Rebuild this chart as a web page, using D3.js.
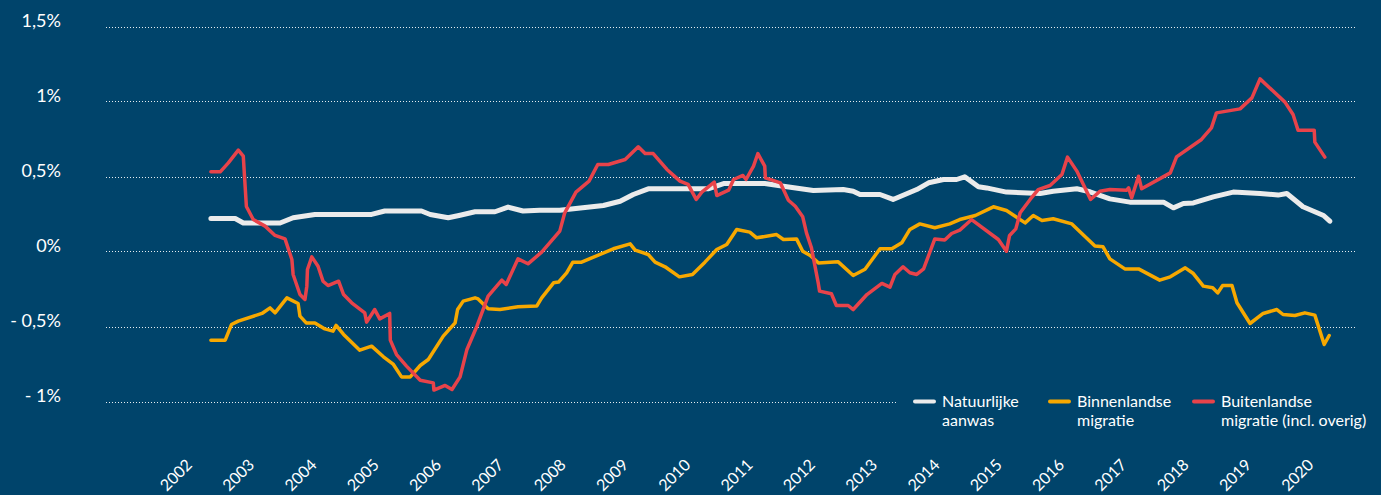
<!DOCTYPE html>
<html>
<head>
  <meta charset="utf-8">
  <title>Bevolkingsgroei naar component</title>
  <style>
    body { margin: 0; background: #00446b; }
    text { font-family: Lato, 'Open Sans', sans-serif; fill: #ffffff; }
  </style>
</head>
<body>
  <div id="chart-container"></div>
  <script src="https://d3js.org/d3.v7.min.js"></script>
  <script>
    // tick labels
    const yTicks = [1.5, 1, 0.5, 0, -0.5, -1];
    const yTickLabels = ['1,5%', '1%', '0,5%', '0%', '- 0,5%', '- 1%'];
    const years = d3.range(2002, 2021);

    // [jaar, procent]
    const natuurlijk = [
      [2002.56, 0.22], [2002.95, 0.22], [2003.08, 0.19], [2003.67, 0.19], [2003.88, 0.225],
      [2004.23, 0.247], [2005.14, 0.247], [2005.35, 0.27], [2005.94, 0.27], [2006.08, 0.247],
      [2006.37, 0.225], [2006.56, 0.242], [2006.80, 0.265], [2007.12, 0.265], [2007.33, 0.296],
      [2007.57, 0.27], [2007.84, 0.275], [2008.16, 0.275], [2008.86, 0.307], [2009.13, 0.335],
      [2009.34, 0.38], [2009.58, 0.418], [2010.54, 0.418], [2010.79, 0.453], [2011.45, 0.453],
      [2011.75, 0.435], [2012.23, 0.407], [2012.71, 0.413], [2012.87, 0.402], [2012.98, 0.38],
      [2013.30, 0.38], [2013.51, 0.347], [2013.89, 0.413], [2014.08, 0.458], [2014.32, 0.48],
      [2014.53, 0.48], [2014.66, 0.498], [2014.88, 0.431], [2015.01, 0.424], [2015.33, 0.396],
      [2015.87, 0.387], [2016.08, 0.402], [2016.46, 0.418], [2016.67, 0.398], [2016.99, 0.351],
      [2017.31, 0.329], [2017.85, 0.329], [2018.01, 0.291], [2018.17, 0.32], [2018.33, 0.324],
      [2018.65, 0.364], [2018.97, 0.396], [2019.40, 0.387], [2019.69, 0.376], [2019.83, 0.387],
      [2020.09, 0.298], [2020.42, 0.24], [2020.52, 0.202]
    ];

    const binnenlands = [
      [2002.56, -0.591], [2002.79, -0.591], [2002.89, -0.487], [2003.00, -0.464], [2003.38, -0.413],
      [2003.51, -0.376], [2003.59, -0.409], [2003.78, -0.309], [2003.96, -0.347], [2003.99, -0.431],
      [2004.09, -0.476], [2004.23, -0.476], [2004.39, -0.516], [2004.52, -0.531], [2004.57, -0.493],
      [2004.69, -0.553], [2004.95, -0.658], [2005.14, -0.631], [2005.33, -0.702], [2005.49, -0.753],
      [2005.62, -0.836], [2005.76, -0.836], [2005.92, -0.76], [2006.05, -0.72], [2006.29, -0.564],
      [2006.48, -0.476], [2006.52, -0.387], [2006.61, -0.331], [2006.80, -0.309], [2006.85, -0.316],
      [2007.01, -0.382], [2007.20, -0.387], [2007.49, -0.369], [2007.79, -0.364], [2007.87, -0.309],
      [2008.06, -0.209], [2008.14, -0.204], [2008.27, -0.142], [2008.37, -0.071], [2008.51, -0.071],
      [2009.02, 0.018], [2009.29, 0.051], [2009.37, 0.009], [2009.58, -0.02], [2009.69, -0.071],
      [2009.85, -0.102], [2010.08, -0.169], [2010.29, -0.153], [2010.49, -0.071], [2010.68, 0.013],
      [2010.84, 0.047], [2011.00, 0.147], [2011.21, 0.129], [2011.32, 0.091], [2011.64, 0.113],
      [2011.75, 0.08], [2011.96, 0.084], [2012.06, 0.002], [2012.18, -0.027], [2012.31, -0.076],
      [2012.63, -0.069], [2012.87, -0.16], [2013.06, -0.118], [2013.30, 0.018], [2013.49, 0.018],
      [2013.65, 0.058], [2013.78, 0.147], [2013.94, 0.184], [2014.18, 0.158], [2014.42, 0.184],
      [2014.58, 0.213], [2014.83, 0.24], [2015.12, 0.298], [2015.33, 0.273], [2015.63, 0.191],
      [2015.76, 0.24], [2015.90, 0.207], [2016.08, 0.218], [2016.38, 0.184], [2016.75, 0.036],
      [2016.88, 0.031], [2016.99, -0.049], [2017.23, -0.116], [2017.45, -0.116], [2017.79, -0.191],
      [2017.96, -0.169], [2018.20, -0.109], [2018.33, -0.147], [2018.49, -0.231], [2018.64, -0.242],
      [2018.72, -0.276], [2018.80, -0.227], [2018.95, -0.227], [2019.03, -0.342], [2019.24, -0.48],
      [2019.45, -0.413], [2019.67, -0.387], [2019.77, -0.42], [2019.96, -0.427], [2020.12, -0.409],
      [2020.28, -0.424], [2020.43, -0.62], [2020.51, -0.56]
    ];

    const buitenlands = [
      [2002.56, 0.531], [2002.71, 0.531], [2002.84, 0.591], [2003.00, 0.676], [2003.08, 0.636],
      [2003.10, 0.50], [2003.13, 0.30], [2003.24, 0.213], [2003.43, 0.169], [2003.59, 0.107],
      [2003.75, 0.084], [2003.86, -0.053], [2003.88, -0.153], [2003.99, -0.287], [2004.07, -0.32],
      [2004.10, -0.231], [2004.11, -0.12], [2004.18, -0.036], [2004.28, -0.098], [2004.36, -0.198],
      [2004.44, -0.227], [2004.61, -0.198], [2004.69, -0.287], [2004.82, -0.342], [2005.03, -0.409],
      [2005.06, -0.471], [2005.19, -0.387], [2005.27, -0.449], [2005.43, -0.413], [2005.44, -0.591],
      [2005.54, -0.687], [2005.70, -0.764], [2005.92, -0.858], [2006.13, -0.876], [2006.14, -0.924],
      [2006.32, -0.893], [2006.43, -0.92], [2006.56, -0.836], [2006.67, -0.653], [2006.83, -0.498],
      [2007.01, -0.298], [2007.23, -0.191], [2007.30, -0.22], [2007.49, -0.049], [2007.65, -0.082],
      [2007.87, -0.004], [2008.16, 0.136], [2008.24, 0.258], [2008.42, 0.396], [2008.63, 0.469],
      [2008.77, 0.58], [2008.94, 0.58], [2009.21, 0.613], [2009.42, 0.698], [2009.53, 0.653],
      [2009.66, 0.653], [2009.88, 0.547], [2010.09, 0.469], [2010.22, 0.447], [2010.35, 0.347],
      [2010.44, 0.396], [2010.64, 0.462], [2010.68, 0.373], [2010.87, 0.409], [2010.95, 0.48],
      [2011.10, 0.507], [2011.15, 0.48], [2011.27, 0.569], [2011.34, 0.653], [2011.45, 0.569],
      [2011.46, 0.491], [2011.70, 0.458], [2011.83, 0.342], [2011.94, 0.302], [2012.06, 0.231],
      [2012.12, 0.124], [2012.20, 0.024], [2012.31, -0.213], [2012.33, -0.264], [2012.52, -0.282],
      [2012.60, -0.36], [2012.79, -0.36], [2012.87, -0.387], [2013.09, -0.287], [2013.33, -0.213],
      [2013.46, -0.238], [2013.54, -0.153], [2013.67, -0.102], [2013.78, -0.142], [2013.89, -0.153],
      [2014.00, -0.116], [2014.18, 0.084], [2014.34, 0.076], [2014.45, 0.12], [2014.58, 0.142],
      [2014.77, 0.213], [2015.20, 0.08], [2015.33, 0.002], [2015.38, 0.107], [2015.48, 0.151],
      [2015.55, 0.258], [2015.71, 0.347], [2015.84, 0.413], [2016.03, 0.44], [2016.22, 0.513],
      [2016.31, 0.629], [2016.46, 0.536], [2016.68, 0.347], [2016.83, 0.402], [2016.99, 0.413],
      [2017.26, 0.409], [2017.29, 0.424], [2017.34, 0.358], [2017.45, 0.502], [2017.50, 0.418],
      [2017.96, 0.524], [2018.06, 0.631], [2018.46, 0.747], [2018.62, 0.824], [2018.70, 0.924],
      [2019.08, 0.951], [2019.27, 1.024], [2019.40, 1.151], [2019.80, 0.996], [2019.93, 0.913],
      [2020.01, 0.809], [2020.27, 0.809], [2020.28, 0.729], [2020.44, 0.629]
    ];

    const seriesNames = ['Natuurlijke|aanwas', 'Binnenlandse|migratie', 'Buitenlandse|migratie (incl. overig)'];
    const seriesColors = ['#ebebeb', '#f7a800', '#e8434a'];
    const seriesData = [natuurlijk, binnenlands, buitenlands];

    const width = 1381;
    const height = 495;
    const bg = '#00446b';

    const svg = d3.select('#chart-container')
      .append('svg')
      .attr('width', width)
      .attr('height', height);

    svg.append('rect').attr('width', width).attr('height', height).attr('fill', bg);

    const xScale = d3.scaleLinear().domain([2002, 2020]).range([176, 1297.4]);
    const yScale = d3.scaleLinear().domain([-1, 1.5]).range([401.5, 26.5]);

    // gridlines
    svg.append('g')
      .selectAll('line')
      .data(yTicks)
      .join('line')
      .attr('x1', 106)
      .attr('x2', 1357)
      .attr('y1', d => Math.round(yScale(d)) + 0.5)
      .attr('y2', d => Math.round(yScale(d)) + 0.5)
      .attr('stroke', '#ffffff')
      .attr('stroke-width', 1)
      .attr('stroke-dasharray', '1,2')
      .attr('opacity', 0.9);

    svg.append('g')
      .selectAll('text')
      .data(yTicks)
      .join('text')
      .attr('x', 61)
      .attr('y', d => yScale(d) - 6)
      .attr('dy', '0.35em')
      .attr('text-anchor', 'end')
      .attr('font-size', 18)
      .text((d, i) => yTickLabels[i]);

    svg.append('g')
      .selectAll('text')
      .data(years)
      .join('text')
      .attr('text-anchor', 'middle')
      .attr('dy', '0.35em')
      .attr('font-size', 16)
      .attr('transform', d => `translate(${xScale(d)},475) rotate(-45)`)
      .text(d => d);

    const lineGenerator = d3.line()
      .x(d => xScale(d[0]))
      .y(d => yScale(d[1]));

    const strokeWidths = [5, 3.5, 3.5];
    seriesData.forEach((data, i) => {
      svg.append('path')
        .datum(data)
        .attr('fill', 'none')
        .attr('stroke', seriesColors[i])
        .attr('stroke-width', strokeWidths[i])
        .attr('stroke-linejoin', 'round')
        .attr('stroke-linecap', 'round')
        .attr('d', lineGenerator);
    });

    // legend
    svg.append('rect')
      .attr('x', 898).attr('y', 385)
      .attr('width', 483).attr('height', 50)
      .attr('fill', bg);

    const legendX = [913, 1048, 1192];
    const legend = svg.append('g')
      .selectAll('g')
      .data(seriesNames)
      .join('g')
      .attr('transform', (d, i) => `translate(${legendX[i]},0)`);

    legend.append('line')
      .attr('x1', 2).attr('x2', 21)
      .attr('y1', 401.5).attr('y2', 401.5)
      .attr('stroke', (d, i) => seriesColors[i])
      .attr('stroke-width', 4)
      .attr('stroke-linecap', 'round');

    legend.append('text')
      .attr('x', 29)
      .attr('font-size', 16)
      .selectAll('tspan')
      .data(d => d.split('|'))
      .join('tspan')
      .attr('x', 29)
      .attr('y', (d, j) => 407 + j * 19)
      .text(d => d);
  </script>
</body>
</html>
